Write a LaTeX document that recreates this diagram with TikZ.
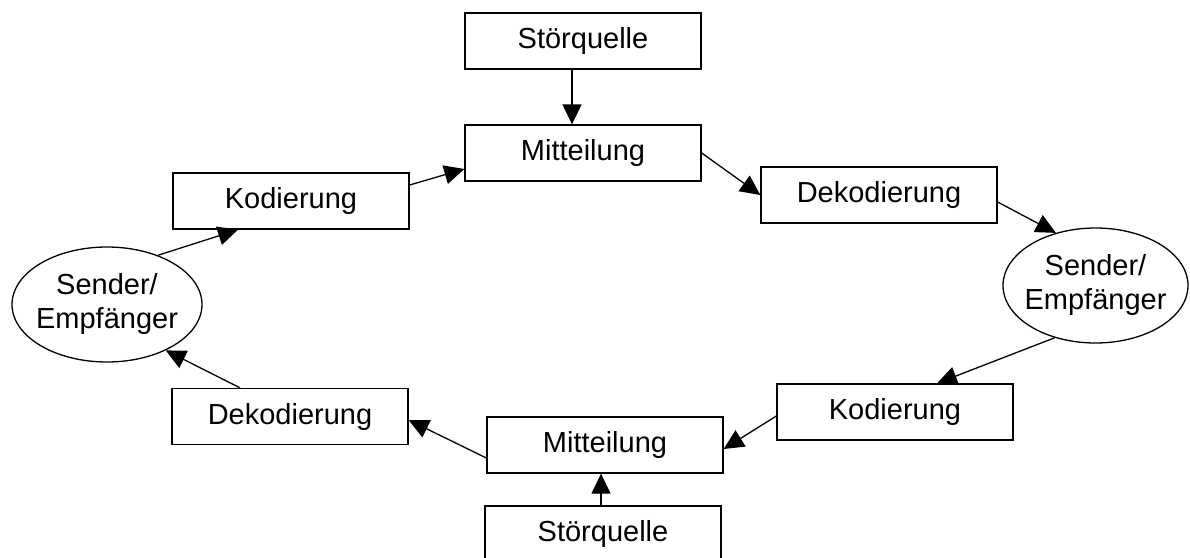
\documentclass[tikz,border=0pt]{standalone}
\usepackage{fontspec}
\setmainfont{Liberation Sans}
\usetikzlibrary{shapes.geometric,arrows.meta}

\tikzset{
  box/.style={draw, rectangle, line width=1.3pt, minimum width=236pt,
    minimum height=56pt, inner sep=0pt, font=\fontsize{29}{34}\selectfont},
  party/.style={draw, ellipse, line width=1.3pt, inner sep=0pt,
    font=\fontsize{29}{34}\selectfont},
  arr/.style={line width=1.3pt, -{Triangle[length=20pt,width=19pt]}}
}

\newcommand{\twolines}[2]{\makebox[100pt]{\begin{tabular}{@{}c@{}}#1\\#2\end{tabular}}}

\begin{document}
\begin{tikzpicture}[x=1pt,y=-1pt]
  \useasboundingbox (0,0) rectangle (1190,557);

  % upper half of the cycle
  \node[box] (st1) at (583,41)  {Störquelle};
  \node[box] (mt1) at (583,153) {Mitteilung};
  \node[box] (ko1) at (291,201) {Kodierung};
  \node[box] (de1) at (879,195) {Dekodierung};

  % the two communicating parties
  \node[party, minimum width=190pt, minimum height=115pt] (el2) at (107,304.5)
    {\twolines{Sender/}{Empfänger}};
  \node[party, minimum width=185pt, minimum height=115pt] (el1) at (1095.5,285.5)
    {\twolines{Sender/}{Empfänger}};

  % lower half of the cycle
  \node[box] (ko2) at (895,412)   {Kodierung};
  \node[box] (mt2) at (605,445)   {Mitteilung};
  \node[box] (de2) at (290,416.5) {Dekodierung};
  \node[box] (st2) at (603,534)   {Störquelle};

  % connectors
  \draw[arr] ([xshift=-11pt]st1.south) -- ([xshift=-11pt]mt1.north);
  \draw[arr] ([yshift=16pt]ko1.east) -- ([yshift=-16pt]mt1.west);
  \draw[arr] (mt1.east) -- (de1.west);
  \draw[arr] ([yshift=-7pt]de1.east) -- (el1.127);
  \draw[arr] (el1.232) -- ([xshift=42pt]ko2.north);
  \draw[arr] ([yshift=-4pt]ko2.west) -- ([yshift=-4pt]mt2.east);
  \draw[arr] ([xshift=-2pt]st2.north) -- ([xshift=-4pt]mt2.south);
  \draw[arr] ([yshift=-13pt]mt2.west) -- ([yshift=-3.5pt]de2.east);
  \draw[arr] ([xshift=-50pt]de2.north) -- (el2.-38);
  \draw[arr] (el2.44) -- ([xshift=-53pt]ko1.south);
\end{tikzpicture}
\end{document}
